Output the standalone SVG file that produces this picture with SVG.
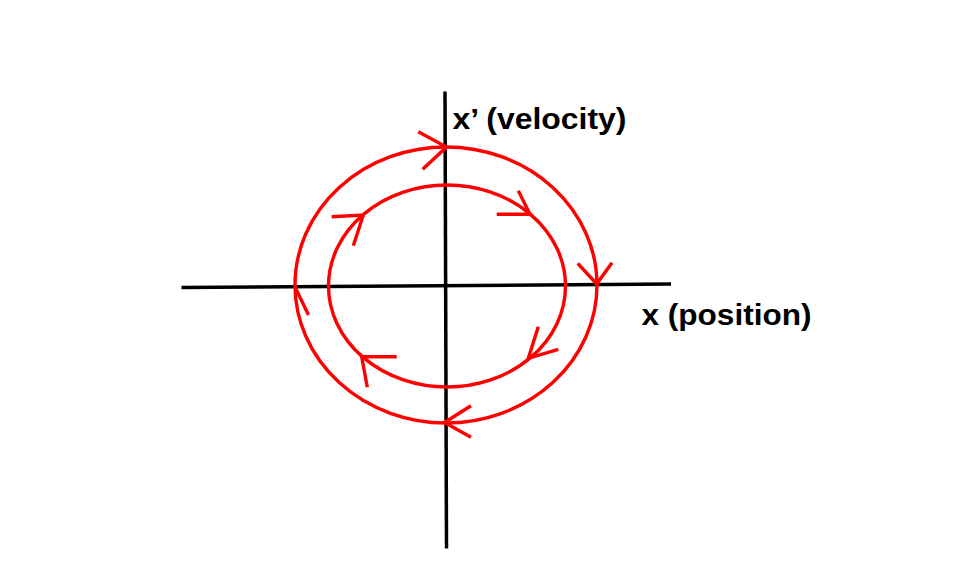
<svg xmlns="http://www.w3.org/2000/svg" width="969" height="576" viewBox="0 0 969 576">
<style>
.axis{stroke:#000;stroke-width:3.5;fill:none}
.orbit{stroke:#ff0000;stroke-width:3.4;fill:none}
.arr{stroke:#ff0000;stroke-width:3.4;fill:none;stroke-linejoin:miter}
.lbl{font-family:"Liberation Sans",Arial,sans-serif;font-weight:bold;font-size:30px;fill:#000}
</style>
<rect width="969" height="576" fill="#fff"/>
<g id="axes">
<line class="axis" x1="181.5" y1="287.5" x2="671" y2="284"/>
<line class="axis" x1="445" y1="91.5" x2="446.5" y2="548.5"/>
</g>
<g id="outer-orbit">
<ellipse class="orbit" cx="446" cy="285" rx="151" ry="138"/>
</g>
<g id="inner-orbit">
<ellipse class="orbit" cx="447" cy="286" rx="118.5" ry="101"/>
</g>
<g id="connectors">
<polyline class="arr" points="418.3,131.7 446.5,147 422.7,169.3"/>
<polyline class="arr" points="577.7,263.3 596.7,284 612,262.7"/>
<polyline class="arr" points="471,405.7 444.5,422.5 471,437.3"/>
<polyline class="arr" points="295,287 308.5,315"/>
<polyline class="arr" points="518.3,190.7 530,214.3 496.7,214.3"/>
<polyline class="arr" points="538.3,326.7 528.3,358.3 558.3,349.3"/>
<polyline class="arr" points="396.7,356.7 361.7,356.7 367.3,387.3"/>
<polyline class="arr" points="331.7,216.7 363.3,215 353.3,245.7"/>
</g>
<g id="label-velocity">
<text class="lbl" x="452.5" y="128.5" textLength="174" lengthAdjust="spacingAndGlyphs">x’ (velocity)</text>
</g>
<g id="label-position">
<text class="lbl" x="641.5" y="325" textLength="170" lengthAdjust="spacingAndGlyphs">x (position)</text>
</g>
</svg>
